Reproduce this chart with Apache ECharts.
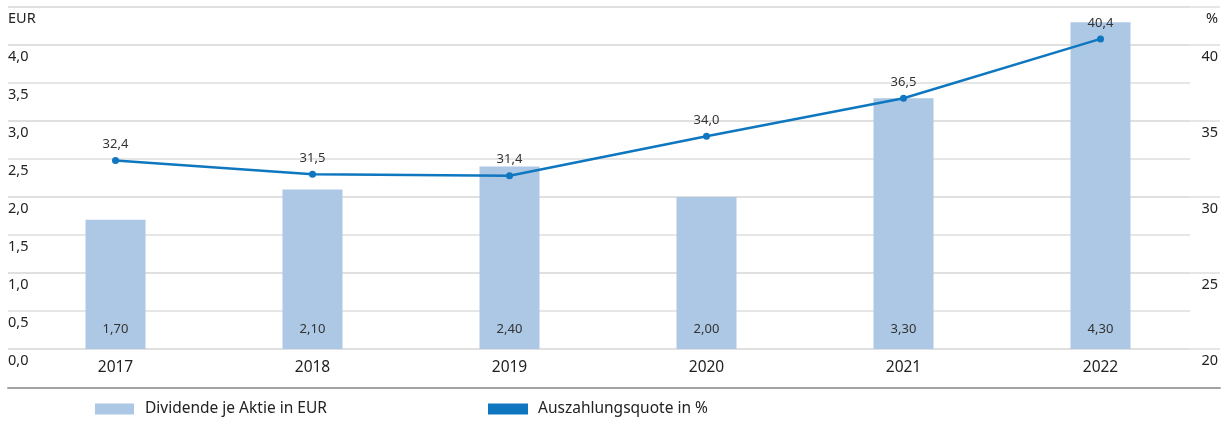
<!DOCTYPE html>
<html>
<head>
    <meta charset="UTF-8">
    <title>Dividende</title>
    <script src="https://cdn.jsdelivr.net/npm/echarts@6/dist/echarts.min.js"></script>
    <style>
        html, body { margin: 0; padding: 0; background: #fff; }
        #main { width: 1227px; height: 428px; }
    </style>
</head>
<body>
<div id="main"></div>
<script>
    // Daten
    var years = ['2017', '2018', '2019', '2020', '2021', '2022'];
    var dividende = [1.70, 2.10, 2.40, 2.00, 3.30, 4.30];
    var quote = [32.4, 31.5, 31.4, 34.0, 36.5, 40.4];
    var nameBar = 'Dividende je Aktie in EUR';
    var nameLine = 'Auszahlungsquote in %';

    var font = '"Noto Sans", sans-serif';
    var gridColor = '#dedede';

    function komma(v, d) {
        return v.toFixed(d).replace('.', ',');
    }

    var myChart = echarts.init(document.getElementById('main'));

    var option = {
        animation: false,
        textStyle: { fontFamily: font },
        color: ['#adc8e5', '#0e77bf'],
        grid: [
            { left: 17, right: 28, top: 7, bottom: 79 },  // Balken + Linie
            { left: 8, right: 37, top: 7, bottom: 79 },   // kurze Hilfslinien
            { left: 8, right: 7, top: 7, bottom: 79 }     // lange Hilfslinien
        ],
        legend: [
            {
                left: 95, top: 401, padding: 0, icon: 'rect', itemWidth: 39, itemHeight: 11,
                data: [nameBar],
                textStyle: { fontSize: 15.5, color: '#222', padding: [0, 0, 0, 6] }
            },
            {
                left: 488, top: 401, padding: 0, icon: 'rect', itemWidth: 40, itemHeight: 11,
                data: [nameLine],
                textStyle: { fontSize: 15.5, color: '#222', padding: [0, 0, 0, 5] }
            }
        ],
        xAxis: [
            {
                type: 'category', gridIndex: 0, data: years,
                axisLine: { show: false }, axisTick: { show: false },
                axisLabel: { fontSize: 15.5, color: '#222', margin: 11 }
            },
            { type: 'value', gridIndex: 1, show: false },
            {
                type: 'value', gridIndex: 2, offset: 39,
                axisLine: { show: true, lineStyle: { color: '#a3a3a3', width: 2 } },
                axisTick: { show: false }, axisLabel: { show: false }, splitLine: { show: false }
            }
        ],
        yAxis: [
            { type: 'value', gridIndex: 0, min: 0, max: 4.5, show: false },
            { type: 'value', gridIndex: 0, min: 20, max: 42.5, show: false },
            {
                type: 'value', gridIndex: 1, position: 'left', min: 0, max: 4.5, interval: 0.5,
                axisLine: { show: false }, axisTick: { show: false },
                splitLine: { lineStyle: { color: gridColor, width: 1.5 } },
                axisLabel: {
                    inside: true, margin: 0, align: 'left', verticalAlign: 'top',
                    fontSize: 14.5, color: '#222', padding: [4, 0, 0, 0],
                    formatter: function (v) { return v === 4.5 ? 'EUR' : komma(v, 1); }
                }
            },
            {
                type: 'value', gridIndex: 2, position: 'right', min: 20, max: 42.5, interval: 5,
                axisLine: { show: false }, axisTick: { show: false },
                splitLine: { lineStyle: { color: gridColor, width: 1.5 } },
                axisLabel: {
                    inside: true, margin: 2, align: 'right', verticalAlign: 'top',
                    fontSize: 14.5, color: '#222', padding: [4, 0, 0, 0],
                    showMaxLabel: true,
                    formatter: function (v) { return v === 42.5 ? '%' : String(v); }
                }
            }
        ],
        series: [
            {
                name: nameBar, type: 'bar', xAxisIndex: 0, yAxisIndex: 0,
                data: dividende, barWidth: 60,
                label: {
                    show: true, position: 'insideBottom', distance: 13,
                    fontSize: 13, color: '#333',
                    formatter: function (p) { return komma(p.value, 2); }
                }
            },
            {
                name: nameLine, type: 'line', xAxisIndex: 0, yAxisIndex: 1,
                data: quote, symbol: 'circle', symbolSize: 7,
                lineStyle: { width: 2.5 },
                label: {
                    show: true, position: 'top', distance: 6,
                    fontSize: 13, color: '#333',
                    formatter: function (p) { return komma(p.value, 1); }
                }
            }
        ]
    };

    myChart.setOption(option);
</script>
</body>
</html>
